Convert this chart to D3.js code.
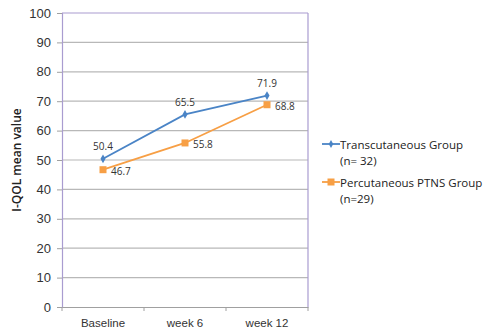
<!DOCTYPE html>
<html>
<head>
<meta charset="utf-8">
<script src="https://cdn.jsdelivr.net/npm/d3@7"></script>
<style>
  html, body { margin: 0; padding: 0; background: #fff; }
  svg { display: block; font-family: "Open Sans", "Liberation Sans", sans-serif; }
</style>
</head>
<body>
<svg id="chart" width="493" height="331"></svg>
<script>
// Time points and I-QOL means per group
const categories = ["Baseline", "week 6", "week 12"];
const transcutaneous = [50.4, 65.5, 71.9];
const percutaneous = [46.7, 55.8, 68.8];
const yTicks = [0, 10, 20, 30, 40, 50, 60, 70, 80, 90, 100];
const seriesNames = [["Transcutaneous Group", "(n= 32)"], ["Percutaneous PTNS Group", "(n=29)"]];

const svg = d3.select("#chart");
const margin = { left: 62, right: 185, top: 13, bottom: 24 };
const W = 493, H = 331;
const plotW = W - margin.left - margin.right;
const plotH = H - margin.top - margin.bottom;

const x = d3.scaleBand().domain(categories).range([margin.left, margin.left + plotW]);
const y = d3.scaleLinear().domain([0, 100]).range([margin.top + plotH, margin.top]);

const blue = "#4a84c6";
const orange = "#f79f45";
const borderCol = "#a99cd0";

// horizontal gridlines
svg.append("g").selectAll("line").data(yTicks.filter(d => d > 0 && d < 100)).join("line")
  .attr("x1", margin.left).attr("x2", margin.left + plotW)
  .attr("y1", d => y(d)).attr("y2", d => y(d))
  .attr("stroke", "#b8b8b8").attr("stroke-width", 1.2);

// plot frame
svg.append("line").attr("x1", margin.left).attr("x2", margin.left + plotW)
  .attr("y1", y(100)).attr("y2", y(100)).attr("stroke", borderCol).attr("stroke-width", 1.2);
svg.append("line").attr("x1", margin.left + plotW).attr("x2", margin.left + plotW)
  .attr("y1", y(100)).attr("y2", y(0)).attr("stroke", borderCol).attr("stroke-width", 1.2);

// y axis
const yAxis = svg.append("g").attr("transform", `translate(${margin.left},0)`)
  .call(d3.axisLeft(y).tickValues(yTicks).tickSize(5).tickPadding(6));
yAxis.select(".domain").attr("stroke", borderCol).attr("stroke-width", 1.2);
yAxis.selectAll(".tick line").attr("stroke", "#a0a0a0");
yAxis.selectAll("text").attr("font-size", 13).attr("fill", "#333");

// x axis
const xAxis = svg.append("g").attr("transform", `translate(0,${y(0)})`)
  .call(d3.axisBottom(x).tickSize(0).tickPadding(12));
xAxis.select(".domain").attr("stroke", "#a0a0a0").attr("stroke-width", 1.2);
xAxis.selectAll("text").attr("font-size", 11.5).attr("fill", "#333");
// boundary ticks between categories
svg.append("g").selectAll("line")
  .data(categories.map(c => x(c)).concat([x.range()[1]])).join("line")
  .attr("x1", d => d).attr("x2", d => d)
  .attr("y1", y(0)).attr("y2", y(0) + 4)
  .attr("stroke", "#a0a0a0");

// y axis title
svg.append("text")
  .attr("transform", `translate(21,${margin.top + plotH / 2}) rotate(-90)`)
  .attr("text-anchor", "middle").attr("font-size", 12).attr("font-weight", 600)
  .attr("fill", "#222").text("I-QOL mean value");

const cx = c => x(c) + x.bandwidth() / 2;
const line = d3.line().x((d, i) => cx(categories[i])).y(d => y(d));

// Transcutaneous series
svg.append("path").datum(transcutaneous).attr("d", line)
  .attr("fill", "none").attr("stroke", blue).attr("stroke-width", 1.8);
svg.append("g").selectAll("path").data(transcutaneous).join("path")
  .attr("d", d3.symbol(d3.symbolDiamond, 22))
  .attr("transform", (d, i) => `translate(${cx(categories[i])},${y(d)})`)
  .attr("fill", blue);
svg.append("g").selectAll("text").data(transcutaneous).join("text")
  .attr("x", (d, i) => cx(categories[i]))
  .attr("y", d => y(d) - 8.5)
  .attr("text-anchor", "middle").attr("font-size", 10).attr("fill", "#333")
  .text(d => d.toFixed(1));

// Percutaneous series
svg.append("path").datum(percutaneous).attr("d", line)
  .attr("fill", "none").attr("stroke", orange).attr("stroke-width", 1.8);
svg.append("g").selectAll("rect").data(percutaneous).join("rect")
  .attr("x", (d, i) => cx(categories[i]) - 3.5).attr("y", d => y(d) - 3.5)
  .attr("width", 7).attr("height", 7).attr("fill", orange);
svg.append("g").selectAll("text").data(percutaneous).join("text")
  .attr("x", (d, i) => cx(categories[i]) + 8)
  .attr("y", d => y(d) + 5)
  .attr("font-size", 10).attr("fill", "#333")
  .text(d => d.toFixed(1));

// legend
const legend = svg.append("g").attr("transform", "translate(322,144)");
const colors = [blue, orange];
seriesNames.forEach((names, i) => {
  const g = legend.append("g").attr("transform", `translate(0,${i * 38})`);
  g.append("line").attr("x1", 0).attr("x2", 18).attr("y1", 0).attr("y2", 0)
    .attr("stroke", colors[i]).attr("stroke-width", 1.8);
  if (i === 0) {
    g.append("path").attr("d", d3.symbol(d3.symbolDiamond, 18)).attr("transform", "translate(9,0)").attr("fill", colors[i]);
  } else {
    g.append("rect").attr("x", 5.5).attr("y", -3.5).attr("width", 7).attr("height", 7).attr("fill", colors[i]);
  }
  g.append("text").attr("x", 18).attr("y", 4.5).attr("font-size", 11.5).attr("fill", "#222").text(names[0]);
  g.append("text").attr("x", 18).attr("y", 21).attr("font-size", 11.5).attr("fill", "#222").text(names[1]);
});
</script>
</body>
</html>
